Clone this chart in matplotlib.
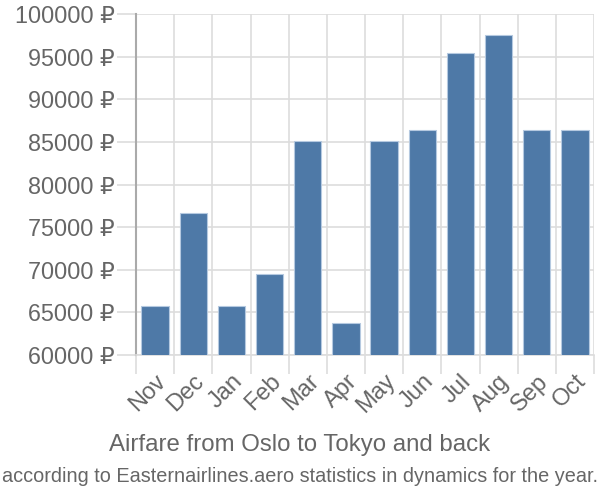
import matplotlib
matplotlib.use("Agg")
import matplotlib.pyplot as plt
import numpy as np

months = ["Nov", "Dec", "Jan", "Feb", "Mar", "Apr", "May", "Jun", "Jul", "Aug", "Sep", "Oct"]
prices = [65760, 76600, 65760, 69450, 85080, 63810, 85080, 86450, 95400, 97550, 86450, 86450]
yticks = [60000, 65000, 70000, 75000, 80000, 85000, 90000, 95000, 100000]
title = "Airfare from Oslo to Tokyo and back"
subtitle = "according to Easternairlines.aero statistics in dynamics for the year."

plt.rcParams['font.family'] = ['Liberation Sans', 'DejaVu Sans']
txt = '#666666'
grid = '#dddddd'

fig = plt.figure(figsize=(6, 5), dpi=100)
ax = fig.add_axes([136/600, 1-355/500, (594-136)/600, (355-14)/500])

x = np.arange(len(months))
ax.bar(x, prices, width=0.72, color='#4e79a7', edgecolor='#b5c9e0', linewidth=0.8, zorder=3)
ax.set_xlim(-0.5, len(months) - 0.5)
ax.set_ylim(60000, 100000)

ax.set_yticks(yticks)
ax.set_yticklabels([f"{v} ₽" for v in yticks], fontsize=16.8, color=txt)
ax.set_xticks(x)
ax.set_xticklabels(months, rotation=45, ha='right', rotation_mode='anchor', fontsize=17, color=txt)
ax.set_xticks(np.arange(-0.5, len(months)), minor=True)
ax.tick_params(axis='x', which='major', length=0, pad=11)
ax.tick_params(axis='x', which='minor', length=14, color=grid, width=1.2)
ax.tick_params(axis='y', length=14, color=grid, width=1.2, pad=1.5)

ax.grid(True, axis='y', color=grid, linewidth=1.2, zorder=0)
ax.grid(True, axis='x', which='minor', color=grid, linewidth=1.2, zorder=0)
for s in ['top', 'right']:
    ax.spines[s].set_visible(False)
ax.spines['bottom'].set_color(grid)
ax.spines['bottom'].set_linewidth(1.2)
ax.spines['left'].set_color('#aaaaaa')
ax.spines['left'].set_linewidth(1.5)

fig.text(0.5, 1-445/500, title, ha='center', va='center', fontsize=17.3, color=txt)
fig.text(0.5, 1-476/500, subtitle, ha='center', va='center', fontsize=14.3, color=txt)

fig.savefig("out.png", dpi=100)
